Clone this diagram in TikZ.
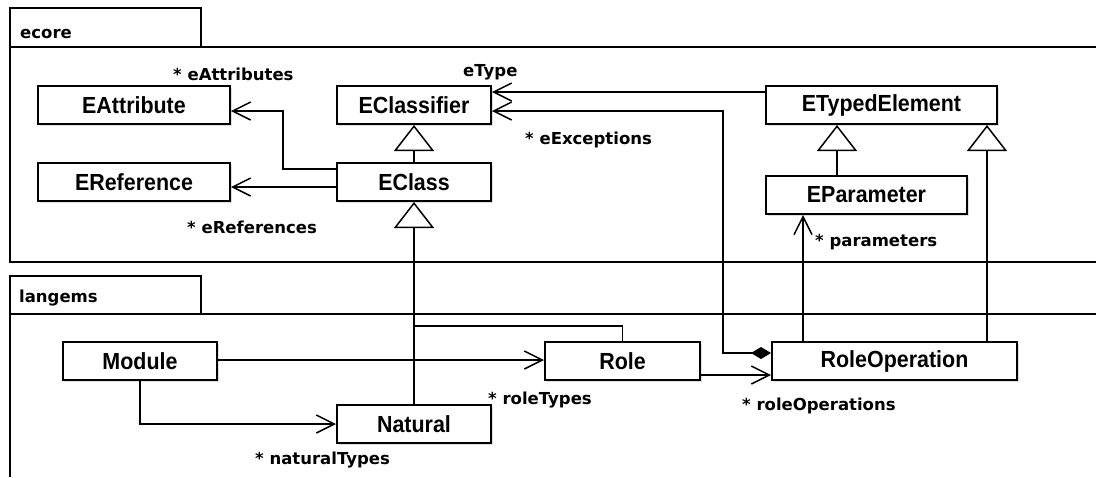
\documentclass[tikz,border=0pt]{standalone}
\usepackage{fontspec}
\setmainfont{Liberation Sans}
\newfontfamily\boxfont[FakeStretch=0.92]{Liberation Sans}
\newfontfamily\lblfont{DejaVu Sans}
\usetikzlibrary{arrows.meta,shadows}
\begin{document}
\begin{tikzpicture}[x=1pt,y=-1pt,
  box/.style={draw, line width=2pt, fill=white, minimum width=#1, minimum height=38pt, inner sep=0pt,
    font=\boxfont\bfseries\fontsize{23.3}{27}\selectfont,
    drop shadow={opacity=0.25,shadow xshift=2pt,shadow yshift=-2pt}},
  lbl/.style={anchor=base west, inner sep=0pt, font=\lblfont\bfseries\fontsize{16.5}{20}\selectfont},
  conn/.style={line width=1.5pt},
  assoc/.style={conn, -{Straight Barb[length=18pt,width=18pt]}},
  gen/.style={conn, -{Triangle[fill=white,length=26pt,width=40pt]}},
  comp/.style={conn, {Diamond[length=20pt,width=12pt]}-{Straight Barb[length=18pt,width=18pt]}},
  pkg/.style={line width=1.8pt}]
\path[fill=white] (0,0) rectangle (1096,477);
\useasboundingbox (0,0) rectangle (1096,477);

% packages
\draw[pkg] (10,47) rectangle (201,8);
\draw[pkg] (1096,47) -- (10,47) -- (10,262) -- (1096,262);
\node[lbl] (ecorelbl) at (20,38) {ecore};
\draw[pkg] (10,314) rectangle (201,276);
\draw[pkg] (1096,314) -- (10,314) -- (10,477);
\node[lbl] (langemslbl) at (19,302) {langems};

% classes
\node[box=192pt] (EAttribute) at (134,105) {EAttribute};
\node[box=192pt] (EReference) at (134,182) {EReference};
\node[box=154pt] (EClassifier) at (414,105) {EClassifier};
\node[box=154pt] (EClass) at (414,182) {EClass};
\node[box=231pt] (ETypedElement) at (881.5,105) {ETypedElement};
\node[box=201pt] (EParameter) at (866.5,195) {EParameter};
\node[box=154pt] (Module) at (140,361) {Module};
\node[box=154pt] (Natural) at (414,424) {Natural};
\node[box=155pt] (Role) at (622.5,361) {Role};
\node[box=245pt] (RoleOperation) at (894.5,361) {RoleOperation};

% connectors
\draw[assoc] (EClass.west |- 0,169) -- (283,169) -- (283,111) -- (EAttribute.east |- 0,111);
\draw[assoc] (EClass.west |- 0,187) -- (EReference.east |- 0,187);
\draw[gen] (EClass.north) -- (EClassifier.south);
\draw[assoc] (ETypedElement.west |- 0,92) -- (EClassifier.east |- 0,92);
\draw[comp] (RoleOperation.west |- 0,353) -- (723,353) -- (723,111) -- (EClassifier.east |- 0,111);
\draw[gen] (EParameter.north -| 837,0) -- (ETypedElement.south -| 837,0);
\draw[gen] (RoleOperation.north -| 987,0) -- (ETypedElement.south -| 987,0);
\draw[assoc] (RoleOperation.north -| 803,0) -- (EParameter.south -| 803,0);
\draw[assoc] (Module.east |- 0,360) -- (Role.west |- 0,360);
\draw[assoc] (Module.south) -- (Module.south |- 0,424) -- (Natural.west |- 0,424);
\draw[assoc] (Role.east |- 0,375) -- (RoleOperation.west |- 0,375);
\draw[gen] (Natural.north) -- (EClass.south);
\draw[conn] (Role.north) -- (Role.north |- 0,326) -- (414,326);

% labels
\node[lbl] (l1) at (173,80) {* eAttributes};
\node[lbl] (l2) at (187,233) {* eReferences};
\node[lbl] (l3) at (463,76) {eType};
\node[lbl] (l4) at (525,144) {* eExceptions};
\node[lbl] (l5) at (815,246) {* parameters};
\node[lbl] (l6) at (488,404) {* roleTypes};
\node[lbl] (l7) at (255,464) {* naturalTypes};
\node[lbl] (l8) at (742,410) {* roleOperations};
\end{tikzpicture}
\end{document}
